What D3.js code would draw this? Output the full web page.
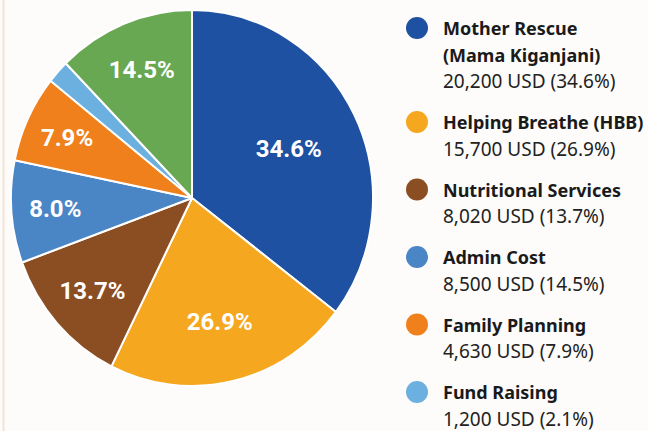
<!DOCTYPE html>
<html>
<head>
<meta charset="utf-8">
<script src="https://cdn.jsdelivr.net/npm/d3@7"></script>
<style>
  html, body { margin: 0; padding: 0; background: #fdfcfa; }
  svg { display: block; }
</style>
</head>
<body>
<div id="chart"></div>
<script>
// slice shares as drawn (clockwise from 12 o'clock) and the labels printed on them
const sliceNames = ["Mother Rescue", "Helping Breathe", "Nutritional Services", "Admin Cost", "Family Planning", "Fund Raising", "Other"];
const sliceShare = [35.4, 22.0, 12.1, 8.8, 7.5, 2.0, 12.3];
const sliceLabel = [34.6, 26.9, 13.7, 8.0, 7.9, null, 14.5];
const sliceColors = ["#1f51a2", "#f5a71f", "#8b4e22", "#4a85c6", "#ef801b", "#6cb0e0", "#68a852"];

// legend
const legendTitle = [["Mother Rescue", "(Mama Kiganjani)"], ["Helping Breathe (HBB)"], ["Nutritional Services"], ["Admin Cost"], ["Family Planning"], ["Fund Raising"]];
const legendAmount = [20200, 15700, 8020, 8500, 4630, 1200];
const legendPct = [34.6, 26.9, 13.7, 14.5, 7.9, 2.1];
const legendColors = ["#1f51a2", "#f5a71f", "#8b4e22", "#4a85c6", "#ef801b", "#6cb0e0"];

const width = 648, height = 431;
const cx = 192, cy = 198, r = 181, sy = 188 / 181;

const svg = d3.select("#chart")
  .append("svg")
  .attr("width", width)
  .attr("height", height);

// faint border on the left
svg.append("rect")
  .attr("x", 2.5).attr("y", 0)
  .attr("width", 2).attr("height", height)
  .attr("fill", "#f3e3d3");

const data = sliceShare.map((v, i) => ({ name: sliceNames[i], value: v, label: sliceLabel[i], color: sliceColors[i] }));

const pie = d3.pie().sort(null).value(d => d.value);
const arc = d3.arc().innerRadius(0).outerRadius(r);
const arcs = pie(data);

const g = svg.append("g")
  .attr("transform", `translate(${cx},${cy}) scale(1,${sy})`);

g.selectAll("path")
  .data(arcs)
  .join("path")
  .attr("d", arc)
  .attr("fill", d => d.data.color)
  .attr("stroke", "#fff")
  .attr("stroke-width", 2)
  .attr("stroke-linejoin", "round");

// bigger slices carry their label nearer the centre
const labelR = d3.scaleLinear().domain([8, 35]).range([138, 108]).clamp(true);
const fmtPct = d => d.toFixed(1) + "%";

svg.append("g")
  .selectAll("text")
  .data(arcs.filter(d => d.data.label != null))
  .join("text")
  .attr("x", d => cx + Math.sin((d.startAngle + d.endAngle) / 2) * labelR(d.data.value))
  .attr("y", d => cy - Math.cos((d.startAngle + d.endAngle) / 2) * labelR(d.data.value) * sy)
  .attr("dy", "0.36em")
  .attr("text-anchor", "middle")
  .attr("fill", "#fff")
  .style("font-family", "Roboto, 'Noto Sans', sans-serif")
  .style("font-weight", 700)
  .style("font-size", "24px")
  .text(d => fmtPct(d.data.label));

// legend
const lineH = 26.5, gap = 41;
const fmtUsd = d3.format(",");
let y = 35;
const legend = svg.append("g");
legendTitle.forEach((lines, i) => {
  const item = legend.append("g");
  item.append("circle")
    .attr("cx", 417).attr("cy", y - 7)
    .attr("r", 11)
    .attr("fill", legendColors[i]);
  lines.forEach((t, j) => {
    item.append("text")
      .attr("x", 443).attr("y", y + j * lineH)
      .attr("fill", "#1a1a1a")
      .style("font-family", "'Noto Sans', sans-serif")
      .style("font-weight", 700)
      .style("font-size", "18px")
      .text(t);
  });
  const vy = y + lines.length * lineH;
  item.append("text")
    .attr("x", 443).attr("y", vy)
    .attr("fill", "#222")
    .style("font-family", "'Noto Sans', sans-serif")
    .style("font-size", "19px")
    .text(`${fmtUsd(legendAmount[i])} USD (${legendPct[i]}%)`);
  y = vy + gap;
});
</script>
</body>
</html>
